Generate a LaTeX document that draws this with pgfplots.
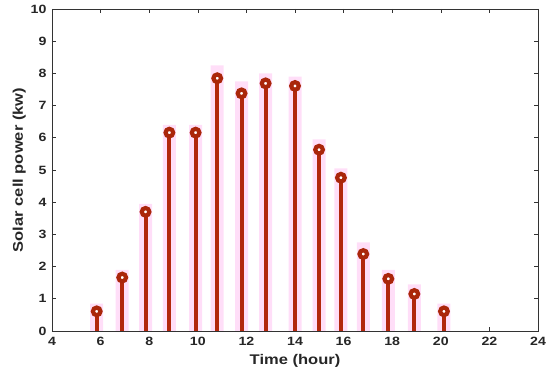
\documentclass[border=0pt]{standalone}
\usepackage{pgfplots}
\pgfplotsset{compat=1.18}
\usepackage{fontspec}
\setmainfont{Liberation Sans}[FakeStretch=1.18]
\definecolor{stem}{RGB}{178,40,12}
\definecolor{ring}{RGB}{170,38,10}
\definecolor{halo}{RGB}{255,222,248}
\begin{document}
\begin{tikzpicture}
\begin{axis}[
  name=ax,
  scale only axis,
  width=486pt, height=322pt,
  xmin=4, xmax=24, ymin=0, ymax=10,
  xtick={4,6,...,24}, ytick={0,1,...,10},
  tick align=inside, major tick length=4pt,
  axis line style={black!80, line width=0.8pt},
  every tick/.style={black!80, line width=0.6pt},
  /pgf/number format/assume math mode=true,
  tick label style={font=\fontsize{12}{14}\selectfont\bfseries, text=black!85},
  xticklabel style={yshift=-3pt},
  yticklabel style={xshift=-2pt},
  xlabel={Time (hour)}, ylabel={Solar cell power (kw)},
  label style={font=\fontsize{14}{16}\selectfont\bfseries, text=black!85},
  xlabel style={yshift=-1pt},
  ylabel style={yshift=-2pt},
  clip=false,
]
\addplot[ybar, bar width=13pt, fill=halo, draw=none, forget plot] coordinates {
(5.84,0.85) (6.89,1.9) (7.85,3.95) (8.83,6.4) (9.91,6.4) (10.8,8.25) (11.8,7.75) (12.79,8.0) (14.0,7.9) (14.99,5.95) (15.89,5.05) (16.81,2.75) (17.84,1.9) (18.91,1.45) (20.13,0.85)
};
\addplot[ycomb, color=stem, line width=4pt, mark=none] coordinates {
(5.84,0.61) (6.89,1.66) (7.85,3.70) (8.83,6.16) (9.91,6.16) (10.8,7.85) (11.8,7.38) (12.79,7.69) (14.0,7.61) (14.99,5.63) (15.89,4.76) (16.81,2.39) (17.84,1.62) (18.91,1.15) (20.13,0.61)
};
\addplot[only marks, mark=*, mark size=3.8pt, mark options={draw=ring, fill=white, line width=4.2pt}] coordinates {
(5.84,0.61) (6.89,1.66) (7.85,3.70) (8.83,6.16) (9.91,6.16) (10.8,7.85) (11.8,7.38) (12.79,7.69) (14.0,7.61) (14.99,5.63) (15.89,4.76) (16.81,2.39) (17.84,1.62) (18.91,1.15) (20.13,0.61)
};
\end{axis}
\path[use as bounding box] ([xshift=-52pt,yshift=-45pt]ax.south west) rectangle ([xshift=12pt,yshift=9pt]ax.north east);
\end{tikzpicture}
\end{document}
